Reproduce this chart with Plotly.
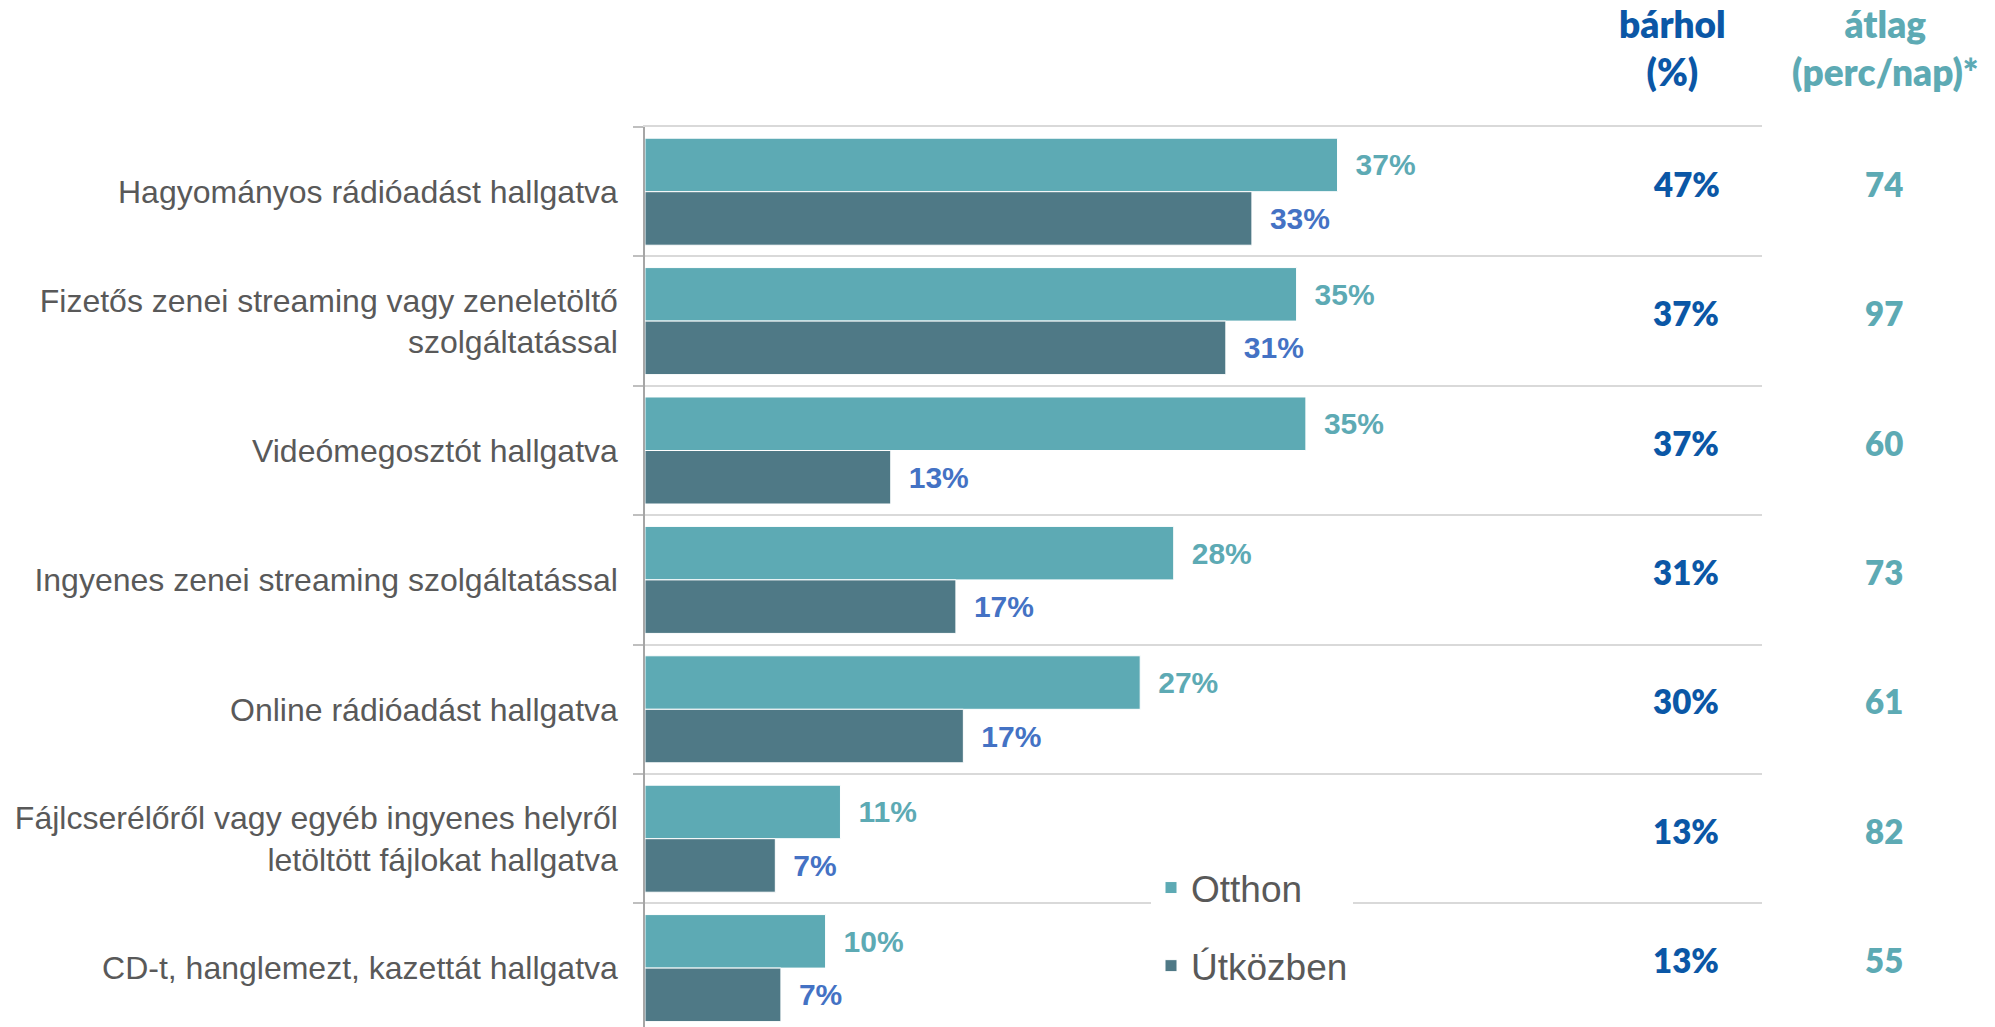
import plotly.graph_objects as go

categories = [
    "Hagyományos rádióadást hallgatva",
    "Fizetős zenei streaming vagy zeneletöltő<br>szolgáltatással",
    "Videómegosztót hallgatva",
    "Ingyenes zenei streaming szolgáltatással",
    "Online rádióadást hallgatva",
    "Fájlcserélőről vagy egyéb ingyenes helyről<br>letöltött fájlokat hallgatva",
    "CD-t, hanglemezt, kazettát hallgatva",
]
otthon = [37.2, 35.0, 35.5, 28.4, 26.6, 10.5, 9.7]
otthon_labels = ["37%", "35%", "35%", "28%", "27%", "11%", "10%"]
utkozben = [32.6, 31.2, 13.2, 16.7, 17.1, 7.0, 7.3]
utkozben_labels = ["33%", "31%", "13%", "17%", "17%", "7%", "7%"]
barhol = ["47%", "37%", "37%", "31%", "30%", "13%", "13%"]
atlag = ["74", "97", "60", "73", "61", "82", "55"]
header_barhol = "bárhol<br>(%)"
header_atlag = "átlag<br>(perc/nap)*"

C_OTTHON = "#5DAAB4"
C_UT = "#4F7986"
C_UT_TXT = "#4472C4"
C_DARKBLUE = "#0B57A6"
C_GREY = "#595959"

W, H = 1995, 1027
ML, MR, MT, MB = 645, 233, 127, 0
PW = W - ML - MR
PH = H - MT - MB

def px_x(px):
    return (px - ML) / PW

def px_y(py):
    return (H - MB - py) / PH

fig = go.Figure()
fig.add_trace(go.Bar(
    y=categories, x=otthon, orientation="h", name="Otthon",
    marker=dict(color=C_OTTHON, line=dict(color="white", width=1)),
    text=["\u2002" + t for t in otthon_labels], textposition="outside",
    textfont=dict(family="Liberation Sans, Arial", size=30, color=C_OTTHON, weight="bold"),
    constraintext="none", cliponaxis=False, legendgroup="a",
))
fig.add_trace(go.Bar(
    y=categories, x=utkozben, orientation="h", name="Útközben",
    marker=dict(color=C_UT, line=dict(color="white", width=1)),
    text=["\u2002" + t for t in utkozben_labels], textposition="outside",
    textfont=dict(family="Liberation Sans, Arial", size=30, color=C_UT_TXT, weight="bold"),
    constraintext="none", cliponaxis=False, legendgroup="b",
))

annotations = []
for cat, b, a in zip(categories, barhol, atlag):
    annotations.append(dict(
        x=px_x(1686), xref="paper", y=cat, yref="y", yshift=8,
        text=b, showarrow=False, xanchor="center", yanchor="middle",
        font=dict(family="Lato", size=33, color=C_DARKBLUE, weight=800)))
    annotations.append(dict(
        x=px_x(1884), xref="paper", y=cat, yref="y", yshift=8,
        text=a, showarrow=False, xanchor="center", yanchor="middle",
        font=dict(family="Lato", size=33, color=C_OTTHON, weight=800)))
annotations.append(dict(
    x=px_x(1672), xref="paper", y=px_y(47), yref="paper",
    text=header_barhol, showarrow=False, xanchor="center", yanchor="middle",
    font=dict(family="Lato", size=37, color=C_DARKBLUE, weight=800)))
annotations.append(dict(
    x=px_x(1885), xref="paper", y=px_y(47), yref="paper",
    text=header_atlag, showarrow=False, xanchor="center", yanchor="middle",
    font=dict(family="Lato", size=37, color=C_OTTHON, weight=800)))

span = PH / 129.4
fig.update_layout(
    width=W, height=H, autosize=False,
    margin=dict(l=ML, r=MR, t=MT, b=MB, pad=0),
    paper_bgcolor="white", plot_bgcolor="white",
    barmode="group", bargap=0.173, bargroupgap=0,
    font=dict(family="Liberation Sans, Arial", color=C_GREY),
    xaxis=dict(range=[0, 60], side="top", showticklabels=False, ticks="",
               showgrid=False, zeroline=False,
               showline=True, linecolor="#D9D9D9", linewidth=1.5),
    yaxis=dict(
        type="category", categoryorder="array", categoryarray=categories,
        range=[-0.5 + span, -0.5], tickson="boundaries",
        ticks="outside", ticklen=10, tickwidth=1.5, tickcolor="#BFBFBF",
        showgrid=True, gridcolor="#D9D9D9", gridwidth=1.5,
        showline=True, linecolor="#A6A6A6", linewidth=1.5,
        tickfont=dict(family="Liberation Sans, Arial", size=32, color=C_GREY),
        ticklabelstandoff=19, zeroline=False,
    ),
    legend=dict(
        x=px_x(1151), y=px_y(857), xanchor="left", yanchor="top",
        bgcolor="white", borderwidth=0, traceorder="grouped", tracegroupgap=27,
        font=dict(family="Liberation Sans, Arial", size=37, color=C_GREY),
    ),
    annotations=annotations,
    showlegend=True,
)

fig.write_html("out.html", config={"displayModeBar": False},
               post_script="document.body.style.margin='0';document.body.style.overflow='hidden';")
